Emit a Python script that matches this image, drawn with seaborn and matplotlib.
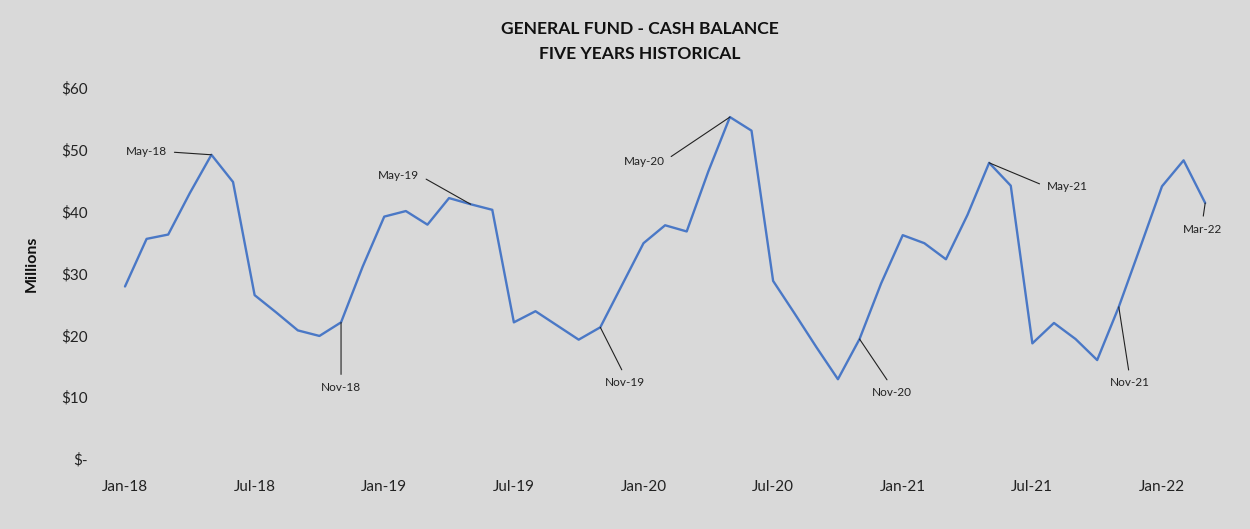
import numpy as np
import pandas as pd
import matplotlib
matplotlib.use("Agg")
import matplotlib.pyplot as plt
import seaborn as sns

# ---- data ----
months = list(pd.date_range("2018-01-01", periods=51, freq="MS").strftime("%b-%y"))
cash_millions = [
    27.9, 35.6, 36.3, 43.0, 49.2, 44.8, 26.5, 23.7, 20.8, 19.9, 22.1, 31.1,   # 2018
    39.2, 40.1, 37.9, 42.2, 41.2, 40.3, 22.1, 23.9, 21.6, 19.3, 21.3, 28.1,   # 2019
    34.9, 37.8, 36.8, 46.5, 55.3, 53.1, 28.8, 23.5, 18.1, 12.9, 19.4, 28.4,   # 2020
    36.2, 34.9, 32.3, 39.5, 47.9, 44.2, 18.7, 22.0, 19.4, 16.0, 24.6, 34.3,   # 2021
    44.1, 48.3, 41.4,                                                          # 2022
]
tick_labels = ["Jan-18", "Jul-18", "Jan-19", "Jul-19", "Jan-20",
               "Jul-20", "Jan-21", "Jul-21", "Jan-22"]
y_ticks = [0, 10, 20, 30, 40, 50, 60]
y_tick_labels = ["$-", "$10", "$20", "$30", "$40", "$50", "$60"]
annot_labels = ["May-18", "Nov-18", "May-19", "Nov-19", "May-20",
                "Nov-20", "May-21", "Nov-21", "Mar-22"]

df = pd.DataFrame({"idx": np.arange(len(months)), "month": months,
                   "cash": cash_millions})

# ---- style ----
BG = "#d9d9d9"
sns.set_theme(style="white")
plt.rcParams["font.family"] = ["Lato", "DejaVu Sans"]

W, H = 1250, 529
fig = plt.figure(figsize=(W / 100, H / 100), dpi=100, facecolor=BG)
ax = fig.add_axes([103.4 / W, (H - 459) / H, (1226.8 - 103.4) / W, 371 / H])
ax.set_facecolor(BG)

sns.lineplot(data=df, x="idx", y="cash", ax=ax, color="#4a78c6",
             linewidth=1.7, legend=False)

ax.set_xlim(-1, 51)
ax.set_ylim(0, 60)
ax.set_xticks([months.index(t) for t in tick_labels])
ax.set_xticklabels(tick_labels, fontsize=11, color="#222222")
ax.set_yticks(y_ticks)
ax.set_yticklabels(y_tick_labels, fontsize=11, color="#222222")
ax.tick_params(axis="x", length=0, pad=15)
ax.tick_params(axis="y", length=0, pad=11)
for s in ax.spines.values():
    s.set_visible(False)
ax.grid(False)
ax.set_xlabel("")
ax.set_ylabel("")

fig.text(32 / W, 1 - 264 / H, "Millions", rotation=90, ha="center", va="center",
         fontsize=11.5, fontweight="bold", color="#111111")

fig.text(640 / W, 1 - 29 / H, "GENERAL FUND - CASH BALANCE", ha="center",
         va="center", fontsize=12.6, fontweight="bold", color="#111111")
fig.text(640 / W, 1 - 54 / H, "FIVE YEARS HISTORICAL", ha="center",
         va="center", fontsize=12.6, fontweight="bold", color="#111111")

# annotation text offsets in pixels (dx, dy up) and leader start on the text box
offsets = {
    "May-18": ((-65, 3), (1, 0.5)),
    "Nov-18": ((0, -65), (0.5, 1)),
    "May-19": ((-72, 29), (1, 0.5)),
    "Nov-19": ((25, -55), (0.5, 1)),
    "May-20": ((-86, -44), (1, 0.5)),
    "Nov-20": ((32, -53), (0.5, 1)),
    "May-21": ((78, -24), (0, 0.5)),
    "Nov-21": ((11, -76), (0.5, 1)),
    "Mar-22": ((-3, -26), (0.5, 1)),
}
for lab in annot_labels:
    i = months.index(lab)
    off, rp = offsets[lab]
    ax.annotate(lab, xy=(i, cash_millions[i]), xytext=off,
                textcoords="offset pixels", ha="center", va="center",
                fontsize=8.5, color="#222222",
                arrowprops=dict(arrowstyle="-", color="#222222", lw=0.8,
                                relpos=rp, shrinkA=3, shrinkB=0))

fig.savefig("out.png", dpi=100, facecolor=BG)
